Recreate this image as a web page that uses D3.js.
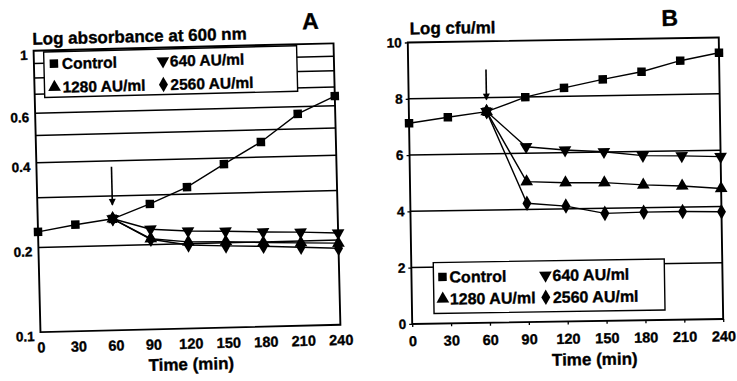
<!DOCTYPE html>
<html><head>
<meta charset="utf-8">
<title>Absorbance and viable counts</title>
<script src="https://d3js.org/d3.v7.min.js"></script>
<style>
  body { margin: 0; background: #fff; }
  svg text { font-family: "Liberation Sans", Arial, sans-serif; font-weight: bold; fill: #000;
             stroke: #000; stroke-width: 0.35px; }
</style>
</head>
<body>
<svg id="chart" width="737" height="381"></svg>

<script>
// --- data
const times = [0, 30, 60, 90, 120, 150, 180, 210, 240];
const treatedTimes = [60, 90, 120, 150, 180, 210, 240];
const seriesNames = ["Control", "640 AU/ml", "1280 AU/ml", "2560 AU/ml"];

// panel A: log absorbance at 600 nm
const absControl = [0.227, 0.239, 0.249, 0.279, 0.318, 0.381, 0.453, 0.566, 0.650];
const abs640  = [0.249, 0.227, 0.222, 0.220, 0.217, 0.215, 0.212];
const abs1280 = [0.249, 0.210, 0.203, 0.202, 0.199, 0.197, 0.195];
const abs2560 = [0.249, 0.209, 0.198, 0.195, 0.193, 0.190, 0.187];
const absTicks = [1, 0.6, 0.4, 0.2, 0.1];
const absGrid = [0.2, 0.3, 0.4, 0.5, 0.6, 0.7, 0.8, 0.9];

// panel B: log cfu/ml
const cfuControl = [7.13, 7.32, 7.50, 7.99, 8.30, 8.58, 8.83, 9.20, 9.46];
const cfu640  = [7.50, 6.23, 6.09, 6.01, 5.85, 5.82, 5.77];
const cfu1280 = [7.50, 4.99, 4.93, 4.91, 4.81, 4.75, 4.64];
const cfu2560 = [7.50, 4.22, 4.10, 3.82, 3.84, 3.84, 3.81];
const cfuTicks = [0, 2, 4, 6, 8, 10];
const cfuGrid = [2, 4, 6, 8];

const svg = d3.select("#chart");

// marker shapes: square, down triangle, up triangle, diamond
const symbols = [
  {type: d3.symbolSquare, size: 72, rot: 0},
  {type: d3.symbolTriangle, size: 70, rot: 180},
  {type: d3.symbolTriangle, size: 70, rot: 0},
  {type: d3.symbolDiamond, size: 70, rot: 0}
];

function marker(sel, i) {
  const s = symbols[i];
  sel.append("path")
     .attr("d", d3.symbol().type(s.type).size(s.size)())
     .attr("transform", d => `translate(${d[0]},${d[1]}) rotate(${s.rot})`)
     .attr("fill", "#000");
}

function drawPanel(p) {
  // the scan is slightly tilted, so each panel is turned a little
  const g = svg.append("g").attr("transform", `rotate(${p.tilt}, ${p.cx}, ${p.cy})`);
  const x = p.x, y = p.y;
  const [x0, x1] = x.range();
  const [yb, yt] = y.range();

  // gridlines
  g.append("g").selectAll("line").data(p.grid).join("line")
    .attr("x1", x0).attr("x2", x1)
    .attr("y1", d => y(d)).attr("y2", d => y(d))
    .attr("stroke", "#000").attr("stroke-width", 1.5);

  // frame
  g.append("rect")
    .attr("x", x0).attr("y", yt)
    .attr("width", x1 - x0).attr("height", yb - yt)
    .attr("fill", "none").attr("stroke", "#000").attr("stroke-width", 1.9);

  // axes
  const xAxis = d3.axisBottom(x).tickValues(times).tickFormat(d3.format("d"))
                  .tickSize(p.tickSize).tickPadding(p.xPad);
  g.append("g").attr("transform", `translate(0,${yb})`).call(xAxis)
    .attr("font-size", 14.5)
    .call(a => a.select(".domain").remove())
    .call(a => a.selectAll("line").attr("stroke-width", 1.3));

  const yAxis = d3.axisLeft(y).tickValues(p.ticks).tickFormat(p.fmt)
                  .tickSize(p.tickSize).tickPadding(p.yPad);
  g.append("g").attr("transform", `translate(${x0},0)`).call(yAxis)
    .attr("font-size", 13.5)
    .call(a => a.select(".domain").remove())
    .call(a => a.selectAll("line").attr("stroke-width", 1.3))
    .call(a => a.selectAll("text").attr("dy", p.yDy));

  // series
  const line = d3.line().x(d => x(d[0])).y(d => y(d[1]));
  p.series.forEach((s, i) => {
    const pts = s.t.map((t, j) => [t, s.v[j]]);
    g.append("path").datum(pts)
      .attr("d", line)
      .attr("fill", "none").attr("stroke", "#000").attr("stroke-width", 1.4);
    const m = g.append("g").selectAll("g").data(pts.map(d => [x(d[0]), y(d[1])])).join("g");
    marker(m, i);
  });

  // arrow at the time of addition
  const ax = x(60), ay = y(p.series[0].v[2]);
  g.append("line")
    .attr("x1", ax).attr("x2", ax)
    .attr("y1", ay - p.arrow[0]).attr("y2", ay - p.arrow[1])
    .attr("stroke", "#000").attr("stroke-width", 1.6);
  g.append("path")
    .attr("d", `M${ax - 3.5},${ay - p.arrow[1] - 6} L${ax + 3.5},${ay - p.arrow[1] - 6} L${ax},${ay - p.arrow[1] + 1} Z`)
    .attr("fill", "#000");

  // legend
  const L = p.legend;
  g.append("rect")
    .attr("x", L.x0).attr("y", L.y0)
    .attr("width", L.x1 - L.x0).attr("height", L.y1 - L.y0)
    .attr("fill", "#fff").attr("stroke", "#000").attr("stroke-width", 1.4);
  seriesNames.forEach((name, i) => {
    const cx = L.mx[i % 2], tx = L.tx[i % 2], ry = L.rows[Math.floor(i / 2)];
    const m = g.append("g").selectAll("g").data([[cx, ry]]).join("g");
    marker(m, i);
    g.append("text").attr("x", tx).attr("y", ry).attr("dy", "0.36em")
      .attr("font-size", L.fs).text(name);
  });

  // titles
  g.append("text").attr("x", p.title[0]).attr("y", p.title[1])
    .attr("font-size", 17).text(p.titleText);
  g.append("text").attr("x", p.letter[0]).attr("y", p.letter[1])
    .attr("font-size", 23).text(p.letterText);
  g.append("text").attr("x", p.xTitle[0]).attr("y", p.xTitle[1])
    .attr("text-anchor", "middle").attr("font-size", 17).text("Time (min)");
}

drawPanel({
  tilt: -1.4, cx: 187, cy: 188,
  x: d3.scaleLinear().domain([0, 240]).range([37, 337]),
  y: d3.scaleLog().domain([0.1, 1]).range([328.5, 47]),
  grid: absGrid, ticks: absTicks, fmt: d => String(d),
  tickSize: 0, xPad: 10, yPad: 6, yDy: "0.62em",
  series: [
    {t: times, v: absControl},
    {t: treatedTimes, v: abs640},
    {t: treatedTimes, v: abs1280},
    {t: treatedTimes, v: abs2560}
  ],
  arrow: [52, 14],
  legend: {x0: 47, y0: 48.5, x1: 300, y1: 94, rows: [60.5, 84], mx: [57, 166], tx: [65, 173], fs: 15.5},
  title: [36, 41], titleText: "Log absorbance at 600 nm",
  letter: [306, 32], letterText: "A",
  xTitle: [187, 370]
});

drawPanel({
  tilt: -0.9, cx: 565, cy: 182,
  x: d3.scaleLinear().domain([0, 240]).range([410, 721]),
  y: d3.scaleLinear().domain([0, 10]).range([321.5, 40]),
  grid: cfuGrid, ticks: cfuTicks, fmt: d3.format("d"),
  tickSize: 3, xPad: 9, yPad: 3, yDy: "0.32em",
  series: [
    {t: times, v: cfuControl},
    {t: treatedTimes, v: cfu640},
    {t: treatedTimes, v: cfu1280},
    {t: treatedTimes, v: cfu2560}
  ],
  arrow: [42, 12],
  legend: {x0: 432, y0: 260.5, x1: 663, y1: 311.5, rows: [275, 297], mx: [441, 544], tx: [448, 551], fs: 16},
  title: [412, 32], titleText: "Log cfu/ml",
  letter: [664, 27.5], letterText: "B",
  xTitle: [592, 365.5]
});
</script>
</body>
</html>
